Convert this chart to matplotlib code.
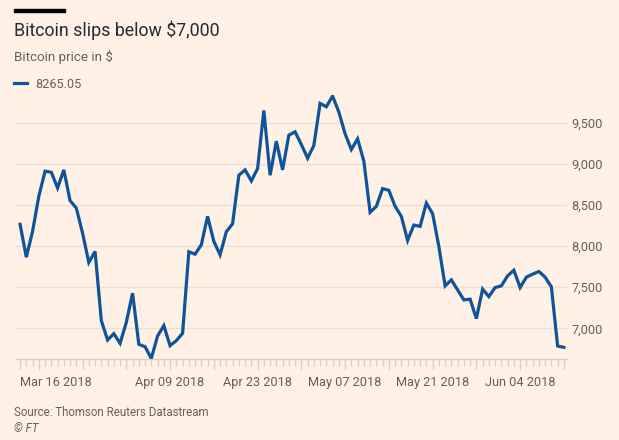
import pandas as pd
import matplotlib
matplotlib.use('Agg')
import matplotlib.pyplot as plt
import matplotlib.dates as mdates
from matplotlib.ticker import FuncFormatter, FixedLocator

# Daily bitcoin price, Mar 16 - Jun 11 2018
start_date = '2018-03-16'
prices = [
    8265.05, 7866, 8179, 8606, 8911, 8898, 8707, 8927, 8553, 8463,
    8158, 7801, 7935, 7094, 6858, 6935, 6817, 7073, 7427, 6805,
    6776, 6634, 6907, 7033, 6789, 6850, 6939, 7931, 7902, 8016,
    8362, 8057, 7894, 8175, 8272, 8862, 8927, 8793, 8943, 9650,
    8862, 9276, 8927, 9350, 9390, 9236, 9069, 9224, 9736, 9695,
    9825, 9630, 9366, 9175, 9305, 9033, 8411, 8484, 8699, 8679,
    8484, 8362, 8069, 8256, 8240, 8524, 8394, 7996, 7516, 7589,
    7467, 7346, 7354, 7118, 7476, 7386, 7496, 7516, 7638, 7707,
    7496, 7622, 7659, 7691, 7622, 7504, 6785, 6768,
]
dates = pd.date_range(start_date, periods=len(prices), freq='D')

label_dates = ['2018-03-16', '2018-04-09', '2018-04-23', '2018-05-07', '2018-05-21', '2018-06-04']
y_ticks = [7000, 7500, 8000, 8500, 9000, 9500]

title = 'Bitcoin slips below $7,000'
subtitle = 'Bitcoin price in $'
source = 'Source: Thomson Reuters Datastream'

bg = '#fff1e5'
blue = '#0f5499'
grey_text = '#66605c'
grid_col = '#ebe0d5'
tick_col = '#dccfc4'

plt.rcParams['font.family'] = ['Roboto', 'DejaVu Sans']

W, H = 619, 440
fig = plt.figure(figsize=(W / 100, H / 100), dpi=100, facecolor=bg)
ax = fig.add_axes([16 / W, 1 - 359.3 / H, (567 - 16) / W, (359.3 - 95) / H])
ax.set_facecolor(bg)

ax.plot(dates, prices, color=blue, linewidth=2.3, solid_joinstyle='miter', zorder=3)

ax.set_xlim(dates[0] - pd.Timedelta(days=0.65), dates[-1] + pd.Timedelta(days=0.5))
ax.set_ylim(6623, 9838)

# y axis: gridlines with labels on the right
ax.yaxis.tick_right()
ax.set_yticks(y_ticks)
ax.yaxis.set_major_formatter(FuncFormatter(lambda v, p: f'{int(v):,}'))
ax.tick_params(axis='y', length=0, pad=3, labelsize=9.2, labelcolor=grey_text)
ax.grid(axis='y', color=grid_col, linewidth=1)

# x axis: daily minor ticks, weekly longer ticks, labels every other Monday
major = [mdates.date2num(pd.Timestamp(start_date))] + \
    list(mdates.date2num(pd.date_range('2018-03-19', dates[-1], freq='7D')))
ax.xaxis.set_major_locator(FixedLocator(major))
ax.xaxis.set_minor_locator(mdates.DayLocator())
lbl_nums = [mdates.date2num(pd.Timestamp(d)) for d in label_dates]


def fmt(v, p):
    for d, n in zip(label_dates, lbl_nums):
        if abs(v - n) < 0.01:
            return pd.Timestamp(d).strftime('%b %d %Y')
    return ''


ax.xaxis.set_major_formatter(FuncFormatter(fmt))
ax.tick_params(axis='x', which='major', length=8, width=1, color=tick_col,
               labelsize=9.2, labelcolor=grey_text, pad=4)
ax.tick_params(axis='x', which='minor', length=5, width=1, color=tick_col)
for lab in ax.get_xticklabels():
    if lab.get_text().startswith('Mar'):
        lab.set_horizontalalignment('left')

for s in ['top', 'left', 'right']:
    ax.spines[s].set_visible(False)
ax.spines['bottom'].set_color(tick_col)
ax.spines['bottom'].set_linewidth(1)

# header and footer
fig.patches.append(plt.Rectangle((14 / W, 1 - 12.5 / H), 51 / W, 3 / H,
                                 transform=fig.transFigure, color='black'))
fig.text(14 / W, 1 - 36 / H, title, fontsize=12.8, color='#262a33', va='baseline')
fig.text(14 / W, 1 - 61.5 / H, subtitle, fontsize=9.6, color=grey_text, va='baseline')
fig.lines.append(plt.Line2D([14 / W, 27 / W], [1 - 83.3 / H] * 2, color=blue,
                            linewidth=2.3, transform=fig.transFigure))
fig.text(35 / W, 1 - 87.5 / H, '8265.05', fontsize=9.1, color=grey_text, va='baseline')
fig.text(14 / W, 1 - 416 / H, source, fontsize=8.3, color=grey_text, va='baseline')
fig.text(14 / W, 1 - 432 / H, '© FT', fontsize=8.3, color=grey_text, va='baseline', style='italic')

fig.savefig('out.png', dpi=100, facecolor=bg)
